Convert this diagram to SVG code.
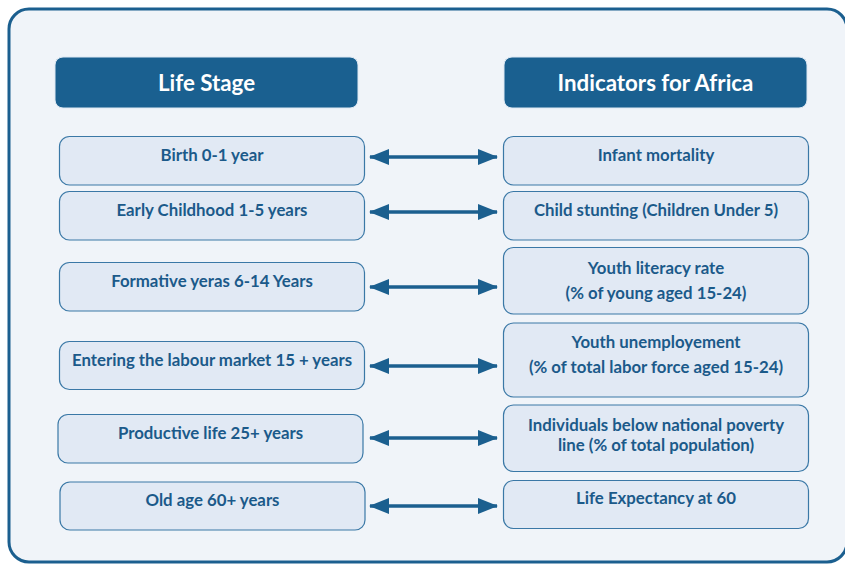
<svg xmlns="http://www.w3.org/2000/svg" width="845" height="565" viewBox="0 0 845 565">
<defs>
<style>
.frame{fill:#f0f4f9;stroke:#1b5f8f;stroke-width:3}
.hdr{fill:#1a6090;stroke:#dde8f3;stroke-width:1}
.hdrt{fill:#ffffff;font-family:Lato,"Liberation Sans",sans-serif;font-weight:700;font-size:22.3px;text-anchor:middle}
.box{fill:#e1e9f4;stroke:#3a78a6;stroke-width:1.2}
.t{fill:#1b5a8a;font-family:Lato,"Liberation Sans",sans-serif;font-weight:700;font-size:16.8px;text-anchor:middle}
.con{stroke:#1b5f8f;stroke-width:3.5;fill:none;marker-start:url(#ah);marker-end:url(#ah)}
</style>
<marker id="ah" viewBox="0 0 20 16" refX="19" refY="8" markerWidth="20" markerHeight="16" markerUnits="userSpaceOnUse" orient="auto-start-reverse">
<path d="M0,0 L20,8 L0,16 Z" fill="#1b5f8f"/>
</marker>
</defs>
<rect x="0" y="0" width="845" height="565" fill="#ffffff"/>
<rect class="frame" x="9" y="9" width="838" height="553" rx="20"/>

<g id="hdr-life"><rect class="hdr" x="55" y="57" width="303" height="51" rx="8"/><text class="hdrt" x="206.5" y="90.5">Life Stage</text></g>
<g id="hdr-ind"><rect class="hdr" x="504" y="57" width="303" height="51" rx="8"/><text class="hdrt" x="655.5" y="90.5">Indicators for Africa</text></g>

<g id="l1"><rect class="box" x="59.5" y="136.5" width="305" height="48.5" rx="10"/><text class="t" x="212" y="161">Birth 0-1 year</text></g>
<g id="l2"><rect class="box" x="59.5" y="191.5" width="305" height="48.5" rx="10"/><text class="t" x="212" y="216">Early Childhood 1-5 years</text></g>
<g id="l3"><rect class="box" x="59.5" y="262.5" width="305" height="48.5" rx="10"/><text class="t" x="212" y="287">Formative yeras 6-14 Years</text></g>
<g id="l4"><rect class="box" x="59.5" y="341.5" width="305" height="48" rx="10"/><text class="t" x="212" y="366">Entering the labour market 15 + years</text></g>
<g id="l5"><rect class="box" x="58" y="414.5" width="305" height="48.5" rx="10"/><text class="t" x="210.5" y="439">Productive life 25+ years</text></g>
<g id="l6"><rect class="box" x="60" y="482" width="305" height="48" rx="10"/><text class="t" x="212.5" y="505.5">Old age 60+ years</text></g>

<g id="r1"><rect class="box" x="503.5" y="136.5" width="305" height="48.5" rx="10"/><text class="t" x="656" y="161">Infant mortality</text></g>
<g id="r2"><rect class="box" x="503.5" y="191.5" width="305" height="48.5" rx="10"/><text class="t" x="656" y="216">Child stunting (Children Under 5)</text></g>
<g id="r3"><rect class="box" x="503.5" y="247.5" width="305" height="66.5" rx="10"/><text class="t" x="656" y="274">Youth literacy rate</text><text class="t" x="656" y="299">(% of young aged 15-24)</text></g>
<g id="r4"><rect class="box" x="503.5" y="323" width="305" height="74" rx="10"/><text class="t" x="656" y="348">Youth unemployement</text><text class="t" x="656" y="373">(% of total labor force aged 15-24)</text></g>
<g id="r5"><rect class="box" x="503.5" y="405" width="305" height="66.5" rx="10"/><text class="t" x="656" y="431">Individuals below national poverty</text><text class="t" x="656" y="451">line (% of total population)</text></g>
<g id="r6"><rect class="box" x="503.5" y="480.5" width="305" height="48" rx="10"/><text class="t" x="656" y="504">Life Expectancy at 60</text></g>

<g id="connectors">
<line class="con" x1="370" y1="157" x2="497" y2="157"/>
<line class="con" x1="370" y1="212" x2="497" y2="212"/>
<line class="con" x1="370" y1="287" x2="497" y2="287"/>
<line class="con" x1="370" y1="366" x2="497" y2="366"/>
<line class="con" x1="370" y1="438" x2="497" y2="438"/>
<line class="con" x1="370" y1="506" x2="497" y2="506"/>
</g>
</svg>
